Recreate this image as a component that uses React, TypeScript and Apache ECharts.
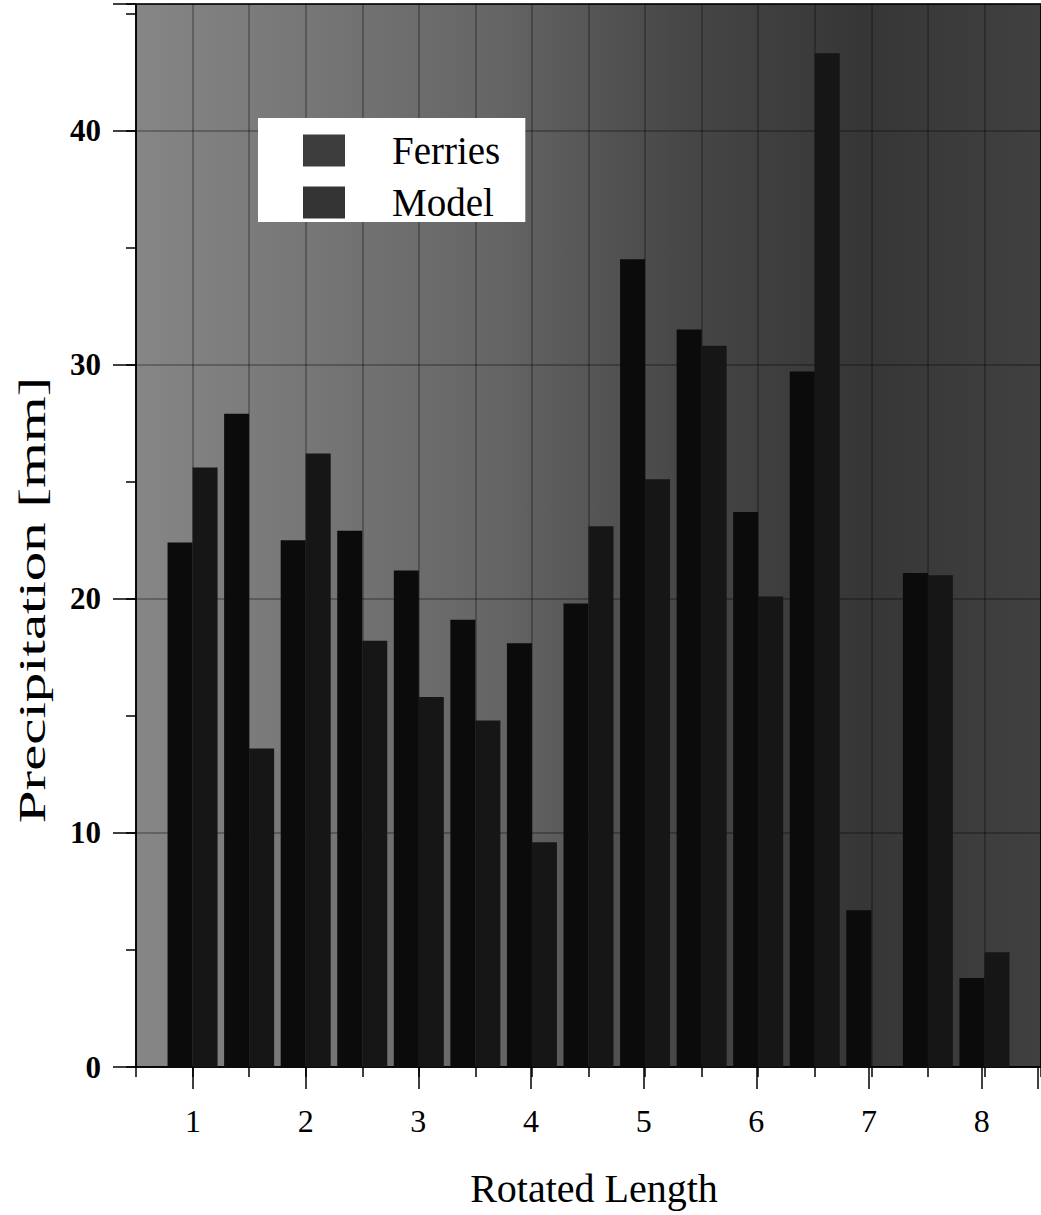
import React, { useEffect, useRef } from "react";
import * as echarts from "echarts";

const positions = [1, 1.5, 2, 2.5, 3, 3.5, 4, 4.5, 5, 5.5, 6, 6.5, 7, 7.5, 8];
const ferries = [22.4, 27.9, 22.5, 22.9, 21.2, 19.1, 18.1, 19.8, 34.5, 31.5, 23.7, 29.7, 6.7, 21.1, 3.8];
const model = [25.6, 13.6, 26.2, 18.2, 15.8, 14.8, 9.6, 23.1, 25.1, 30.8, 20.1, 43.3, 0, 21.0, 4.9];
const seriesNames = ["Ferries", "Model"];
const xTitle = "Rotated Length";
const yTitle = "Precipitation [mm]";

const SERIF = "'Liberation Serif', 'Times New Roman', serif";

export default function App() {
  const ref = useRef<HTMLDivElement>(null);
  useEffect(() => {
    if (!ref.current) return;
    const chart = echarts.init(ref.current, null, { renderer: "svg" });
    const bg = new echarts.graphic.LinearGradient(0, 0, 1, 0, [
      { offset: 0, color: "#868686" },
      { offset: 0.4, color: "#656565" },
      { offset: 0.6, color: "#474747" },
      { offset: 0.8, color: "#363636" },
      { offset: 1, color: "#404040" },
    ]);
    const gridLine = { color: "rgba(0,0,0,0.35)", width: 1.5 };
    const axisBlack = { color: "#000", width: 1.5 };
    const option: any = {
      animation: false,
      backgroundColor: "#fff",
      grid: [
        { left: 136, right: -9, top: 4, bottom: 148, show: true, backgroundColor: bg, borderColor: "#000", borderWidth: 1.5 },
        { left: 193, right: -9, top: 4, bottom: 148, show: false },
      ],
      xAxis: [
        {
          type: "value", gridIndex: 0, min: 0.5, max: 8.5, interval: 0.5, position: "bottom",
          axisLine: { show: true, lineStyle: axisBlack },
          axisTick: { show: true, length: 10, lineStyle: axisBlack },
          axisLabel: { show: false },
          splitLine: { show: true, lineStyle: gridLine },
        },
        {
          type: "value", gridIndex: 1, min: 1, max: 8.5, interval: 1, position: "bottom",
          axisLine: { show: false },
          axisTick: { show: true, length: 22, lineStyle: axisBlack },
          axisLabel: {
            show: true, margin: 38, fontSize: 32, fontFamily: SERIF, color: "#000",
            formatter: (v: number) => (Number.isInteger(v) ? String(v) : ""),
          },
          splitLine: { show: false },
        },
      ],
      yAxis: [
        {
          type: "value", gridIndex: 0, min: 0, max: 45.4, interval: 5, position: "left",
          axisLine: { show: true, lineStyle: axisBlack },
          axisTick: { show: true, length: 10, lineStyle: axisBlack },
          axisLabel: { show: false },
          splitLine: { show: false },
        },
        {
          type: "value", gridIndex: 0, min: 0, max: 45.4, interval: 10, position: "left",
          axisLine: { show: false },
          axisTick: { show: true, length: 23, lineStyle: axisBlack },
          axisLabel: {
            show: true, margin: 35, fontSize: 31, fontWeight: "bold", fontFamily: SERIF, color: "#000",
            formatter: (v: number) => (v % 10 === 0 ? String(v) : ""),
          },
          splitLine: { show: true, lineStyle: gridLine },
        },
        { type: "value", gridIndex: 1, min: 0, max: 45.4, show: false },
      ],
      legend: {
        left: 258, top: 118, orient: "vertical",
        backgroundColor: "#fff", borderWidth: 0,
        padding: [13, 25, 0, 45], itemGap: 13, itemWidth: 42, itemHeight: 32, icon: "rect",
        textStyle: { fontFamily: SERIF, fontSize: 39, color: "#000", padding: [0, 0, 0, 42] },
        data: [
          { name: seriesNames[0], itemStyle: { color: "#3c3c3c" } },
          { name: seriesNames[1], itemStyle: { color: "#343434" } },
        ],
      },
      series: [
        {
          name: seriesNames[0], type: "bar", xAxisIndex: 0, yAxisIndex: 0,
          barWidth: 25, barGap: "0%",
          itemStyle: { color: "#0b0b0b" },
          data: positions.map((p, i) => [p, ferries[i]]),
        },
        {
          name: seriesNames[1], type: "bar", xAxisIndex: 0, yAxisIndex: 0,
          barWidth: 25, barGap: "0%",
          itemStyle: { color: "#161616" },
          data: positions.map((p, i) => [p, model[i]]),
        },
      ],
      graphic: [
        {
          type: "text", x: 594, y: 1188,
          style: { text: xTitle, fontSize: 40, fontFamily: SERIF, fill: "#000", align: "center", verticalAlign: "middle" },
        },
        {
          type: "text", x: 32, y: 600, rotation: Math.PI / 2, scaleX: 1.55,
          style: { text: yTitle, fontSize: 38, fontFamily: SERIF, fill: "#000", align: "center", verticalAlign: "middle" },
        },
      ],
    };
    chart.setOption(option);
    return () => chart.dispose();
  }, []);
  return <div ref={ref} style={{ position: "absolute", left: 0, top: 0, width: 1041, height: 1215 }} />;
}
